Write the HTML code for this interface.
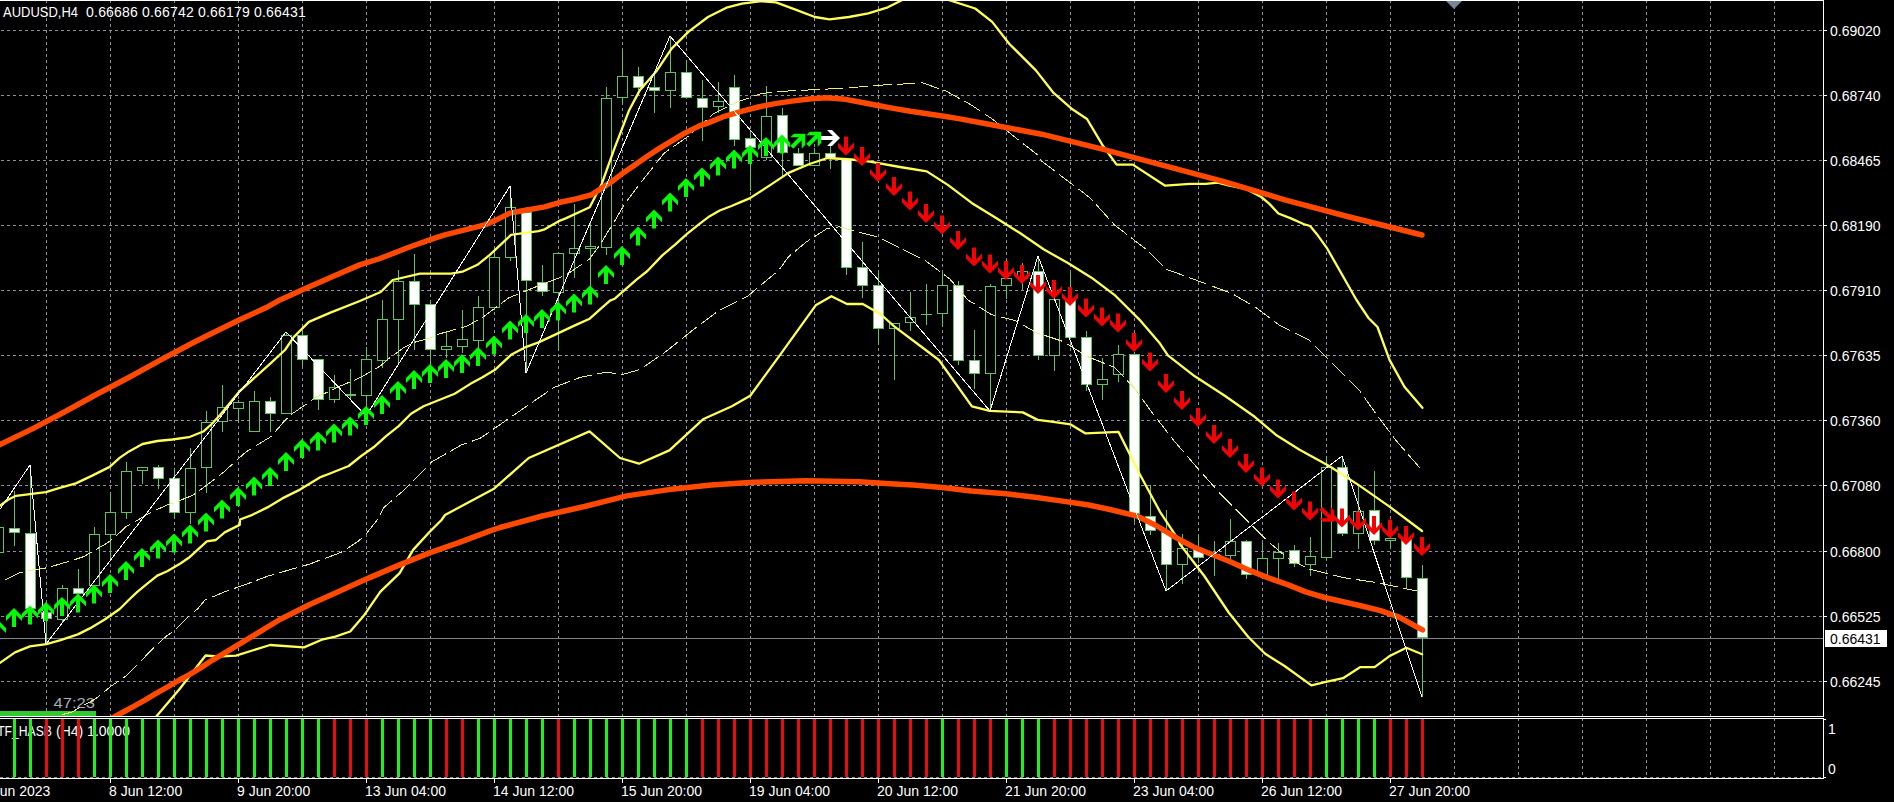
<!DOCTYPE html><html><head><meta charset="utf-8"><style>html,body{margin:0;padding:0;background:#000;overflow:hidden}svg{display:block}text{font-family:"Liberation Sans",sans-serif}</style></head><body>
<svg width="1894" height="802" viewBox="0 0 1894 802">
<rect width="1894" height="802" fill="#000"/>
<g stroke="#8c9198" stroke-width="1" stroke-dasharray="3 3" shape-rendering="crispEdges">
<line x1="1" y1="30.5" x2="1823" y2="30.5"/>
<line x1="1" y1="95.5" x2="1823" y2="95.5"/>
<line x1="1" y1="160.5" x2="1823" y2="160.5"/>
<line x1="1" y1="225.5" x2="1823" y2="225.5"/>
<line x1="1" y1="290.5" x2="1823" y2="290.5"/>
<line x1="1" y1="355.5" x2="1823" y2="355.5"/>
<line x1="1" y1="420.5" x2="1823" y2="420.5"/>
<line x1="1" y1="485.5" x2="1823" y2="485.5"/>
<line x1="1" y1="551.5" x2="1823" y2="551.5"/>
<line x1="1" y1="616.5" x2="1823" y2="616.5"/>
<line x1="1" y1="681.5" x2="1823" y2="681.5"/>
<line x1="46.5" y1="0" x2="46.5" y2="716"/>
<line x1="46.5" y1="718" x2="46.5" y2="777"/>
<line x1="110.5" y1="0" x2="110.5" y2="716"/>
<line x1="110.5" y1="718" x2="110.5" y2="777"/>
<line x1="174.5" y1="0" x2="174.5" y2="716"/>
<line x1="174.5" y1="718" x2="174.5" y2="777"/>
<line x1="238.5" y1="0" x2="238.5" y2="716"/>
<line x1="238.5" y1="718" x2="238.5" y2="777"/>
<line x1="302.5" y1="0" x2="302.5" y2="716"/>
<line x1="302.5" y1="718" x2="302.5" y2="777"/>
<line x1="366.5" y1="0" x2="366.5" y2="716"/>
<line x1="366.5" y1="718" x2="366.5" y2="777"/>
<line x1="430.5" y1="0" x2="430.5" y2="716"/>
<line x1="430.5" y1="718" x2="430.5" y2="777"/>
<line x1="494.5" y1="0" x2="494.5" y2="716"/>
<line x1="494.5" y1="718" x2="494.5" y2="777"/>
<line x1="558.5" y1="0" x2="558.5" y2="716"/>
<line x1="558.5" y1="718" x2="558.5" y2="777"/>
<line x1="622.5" y1="0" x2="622.5" y2="716"/>
<line x1="622.5" y1="718" x2="622.5" y2="777"/>
<line x1="686.5" y1="0" x2="686.5" y2="716"/>
<line x1="686.5" y1="718" x2="686.5" y2="777"/>
<line x1="750.5" y1="0" x2="750.5" y2="716"/>
<line x1="750.5" y1="718" x2="750.5" y2="777"/>
<line x1="814.5" y1="0" x2="814.5" y2="716"/>
<line x1="814.5" y1="718" x2="814.5" y2="777"/>
<line x1="878.5" y1="0" x2="878.5" y2="716"/>
<line x1="878.5" y1="718" x2="878.5" y2="777"/>
<line x1="942.5" y1="0" x2="942.5" y2="716"/>
<line x1="942.5" y1="718" x2="942.5" y2="777"/>
<line x1="1006.5" y1="0" x2="1006.5" y2="716"/>
<line x1="1006.5" y1="718" x2="1006.5" y2="777"/>
<line x1="1070.5" y1="0" x2="1070.5" y2="716"/>
<line x1="1070.5" y1="718" x2="1070.5" y2="777"/>
<line x1="1134.5" y1="0" x2="1134.5" y2="716"/>
<line x1="1134.5" y1="718" x2="1134.5" y2="777"/>
<line x1="1198.5" y1="0" x2="1198.5" y2="716"/>
<line x1="1198.5" y1="718" x2="1198.5" y2="777"/>
<line x1="1262.5" y1="0" x2="1262.5" y2="716"/>
<line x1="1262.5" y1="718" x2="1262.5" y2="777"/>
<line x1="1326.5" y1="0" x2="1326.5" y2="716"/>
<line x1="1326.5" y1="718" x2="1326.5" y2="777"/>
<line x1="1390.5" y1="0" x2="1390.5" y2="716"/>
<line x1="1390.5" y1="718" x2="1390.5" y2="777"/>
<line x1="1454.5" y1="0" x2="1454.5" y2="716"/>
<line x1="1454.5" y1="718" x2="1454.5" y2="777"/>
<line x1="1518.5" y1="0" x2="1518.5" y2="716"/>
<line x1="1518.5" y1="718" x2="1518.5" y2="777"/>
<line x1="1582.5" y1="0" x2="1582.5" y2="716"/>
<line x1="1582.5" y1="718" x2="1582.5" y2="777"/>
<line x1="1646.5" y1="0" x2="1646.5" y2="716"/>
<line x1="1646.5" y1="718" x2="1646.5" y2="777"/>
<line x1="1710.5" y1="0" x2="1710.5" y2="716"/>
<line x1="1710.5" y1="718" x2="1710.5" y2="777"/>
<line x1="1774.5" y1="0" x2="1774.5" y2="716"/>
<line x1="1774.5" y1="718" x2="1774.5" y2="777"/>
<line x1="0" y1="777.5" x2="1823" y2="777.5"/>
</g>
<line x1="0" y1="638.5" x2="1823" y2="638.5" stroke="#80868c" stroke-width="1" shape-rendering="crispEdges"/>
<text x="-13" y="736" font-size="14" fill="#fff" textLength="65" lengthAdjust="spacingAndGlyphs">MTF_HASB</text>
<text x="56" y="736" font-size="14" fill="#fff">(H4) 1.0000</text>
<g shape-rendering="crispEdges">
<rect x="13" y="719" width="3" height="58" fill="#1ef01e"/>
<rect x="29" y="719" width="3" height="58" fill="#1ef01e"/>
<rect x="45" y="719" width="3" height="58" fill="#e60e0e"/>
<rect x="61" y="719" width="3" height="58" fill="#e60e0e"/>
<rect x="77" y="719" width="3" height="58" fill="#e60e0e"/>
<rect x="93" y="719" width="3" height="58" fill="#1ef01e"/>
<rect x="109" y="719" width="3" height="58" fill="#1ef01e"/>
<rect x="125" y="719" width="3" height="58" fill="#1ef01e"/>
<rect x="141" y="719" width="3" height="58" fill="#1ef01e"/>
<rect x="157" y="719" width="3" height="58" fill="#1ef01e"/>
<rect x="173" y="719" width="3" height="58" fill="#1ef01e"/>
<rect x="189" y="719" width="3" height="58" fill="#1ef01e"/>
<rect x="205" y="719" width="3" height="58" fill="#1ef01e"/>
<rect x="221" y="719" width="3" height="58" fill="#1ef01e"/>
<rect x="237" y="719" width="3" height="58" fill="#1ef01e"/>
<rect x="253" y="719" width="3" height="58" fill="#1ef01e"/>
<rect x="269" y="719" width="3" height="58" fill="#1ef01e"/>
<rect x="285" y="719" width="3" height="58" fill="#1ef01e"/>
<rect x="301" y="719" width="3" height="58" fill="#1ef01e"/>
<rect x="317" y="719" width="3" height="58" fill="#1ef01e"/>
<rect x="333" y="719" width="3" height="58" fill="#e60e0e"/>
<rect x="349" y="719" width="3" height="58" fill="#e60e0e"/>
<rect x="365" y="719" width="3" height="58" fill="#e60e0e"/>
<rect x="381" y="719" width="3" height="58" fill="#1ef01e"/>
<rect x="397" y="719" width="3" height="58" fill="#1ef01e"/>
<rect x="413" y="719" width="3" height="58" fill="#1ef01e"/>
<rect x="429" y="719" width="3" height="58" fill="#1ef01e"/>
<rect x="445" y="719" width="3" height="58" fill="#e60e0e"/>
<rect x="461" y="719" width="3" height="58" fill="#e60e0e"/>
<rect x="477" y="719" width="3" height="58" fill="#1ef01e"/>
<rect x="493" y="719" width="3" height="58" fill="#1ef01e"/>
<rect x="509" y="719" width="3" height="58" fill="#1ef01e"/>
<rect x="525" y="719" width="3" height="58" fill="#1ef01e"/>
<rect x="541" y="719" width="3" height="58" fill="#1ef01e"/>
<rect x="557" y="719" width="3" height="58" fill="#e60e0e"/>
<rect x="573" y="719" width="3" height="58" fill="#1ef01e"/>
<rect x="589" y="719" width="3" height="58" fill="#1ef01e"/>
<rect x="605" y="719" width="3" height="58" fill="#1ef01e"/>
<rect x="621" y="719" width="3" height="58" fill="#1ef01e"/>
<rect x="637" y="719" width="3" height="58" fill="#1ef01e"/>
<rect x="653" y="719" width="3" height="58" fill="#1ef01e"/>
<rect x="669" y="719" width="3" height="58" fill="#1ef01e"/>
<rect x="685" y="719" width="3" height="58" fill="#1ef01e"/>
<rect x="701" y="719" width="3" height="58" fill="#e60e0e"/>
<rect x="717" y="719" width="3" height="58" fill="#e60e0e"/>
<rect x="733" y="719" width="3" height="58" fill="#e60e0e"/>
<rect x="749" y="719" width="3" height="58" fill="#e60e0e"/>
<rect x="765" y="719" width="3" height="58" fill="#e60e0e"/>
<rect x="781" y="719" width="3" height="58" fill="#e60e0e"/>
<rect x="797" y="719" width="3" height="58" fill="#e60e0e"/>
<rect x="813" y="719" width="3" height="58" fill="#e60e0e"/>
<rect x="829" y="719" width="3" height="58" fill="#e60e0e"/>
<rect x="845" y="719" width="3" height="58" fill="#e60e0e"/>
<rect x="861" y="719" width="3" height="58" fill="#e60e0e"/>
<rect x="877" y="719" width="3" height="58" fill="#e60e0e"/>
<rect x="893" y="719" width="3" height="58" fill="#e60e0e"/>
<rect x="909" y="719" width="3" height="58" fill="#e60e0e"/>
<rect x="925" y="719" width="3" height="58" fill="#e60e0e"/>
<rect x="941" y="719" width="3" height="58" fill="#1ef01e"/>
<rect x="957" y="719" width="3" height="58" fill="#e60e0e"/>
<rect x="973" y="719" width="3" height="58" fill="#e60e0e"/>
<rect x="989" y="719" width="3" height="58" fill="#e60e0e"/>
<rect x="1005" y="719" width="3" height="58" fill="#1ef01e"/>
<rect x="1021" y="719" width="3" height="58" fill="#1ef01e"/>
<rect x="1037" y="719" width="3" height="58" fill="#1ef01e"/>
<rect x="1053" y="719" width="3" height="58" fill="#e60e0e"/>
<rect x="1069" y="719" width="3" height="58" fill="#e60e0e"/>
<rect x="1085" y="719" width="3" height="58" fill="#e60e0e"/>
<rect x="1101" y="719" width="3" height="58" fill="#e60e0e"/>
<rect x="1117" y="719" width="3" height="58" fill="#e60e0e"/>
<rect x="1133" y="719" width="3" height="58" fill="#e60e0e"/>
<rect x="1149" y="719" width="3" height="58" fill="#e60e0e"/>
<rect x="1165" y="719" width="3" height="58" fill="#e60e0e"/>
<rect x="1181" y="719" width="3" height="58" fill="#e60e0e"/>
<rect x="1197" y="719" width="3" height="58" fill="#e60e0e"/>
<rect x="1213" y="719" width="3" height="58" fill="#e60e0e"/>
<rect x="1229" y="719" width="3" height="58" fill="#e60e0e"/>
<rect x="1245" y="719" width="3" height="58" fill="#e60e0e"/>
<rect x="1261" y="719" width="3" height="58" fill="#e60e0e"/>
<rect x="1277" y="719" width="3" height="58" fill="#e60e0e"/>
<rect x="1293" y="719" width="3" height="58" fill="#e60e0e"/>
<rect x="1309" y="719" width="3" height="58" fill="#e60e0e"/>
<rect x="1325" y="719" width="3" height="58" fill="#1ef01e"/>
<rect x="1341" y="719" width="3" height="58" fill="#1ef01e"/>
<rect x="1357" y="719" width="3" height="58" fill="#1ef01e"/>
<rect x="1373" y="719" width="3" height="58" fill="#1ef01e"/>
<rect x="1389" y="719" width="3" height="58" fill="#e60e0e"/>
<rect x="1405" y="719" width="3" height="58" fill="#e60e0e"/>
<rect x="1421" y="719" width="3" height="58" fill="#e60e0e"/>
</g>
<rect x="0" y="711" width="96" height="5" fill="#32c832"/>
<text x="53.5" y="708" font-size="14" fill="#a8acb0" textLength="41.5" lengthAdjust="spacingAndGlyphs">47:23</text>
<defs><clipPath id="mc"><rect x="0" y="1" width="1823" height="715"/></clipPath></defs>
<g clip-path="url(#mc)">
<g shape-rendering="crispEdges">
<rect x="-2" y="520" width="1" height="7" fill="#5ec45e"/>
<rect x="-2" y="552" width="1" height="8" fill="#5ec45e"/>
<rect x="-7" y="527" width="11" height="26" fill="#5ec45e"/>
<rect x="-6" y="528" width="9" height="24" fill="#000000"/>
<rect x="14" y="491" width="1" height="37" fill="#5ec45e"/>
<rect x="14" y="532" width="1" height="14" fill="#5ec45e"/>
<rect x="9" y="528" width="11" height="5" fill="#5ec45e"/>
<rect x="10" y="529" width="9" height="3" fill="#ffffff"/>
<rect x="30" y="465" width="1" height="68" fill="#5ec45e"/>
<rect x="30" y="608" width="1" height="12" fill="#5ec45e"/>
<rect x="25" y="533" width="11" height="76" fill="#5ec45e"/>
<rect x="26" y="534" width="9" height="74" fill="#ffffff"/>
<rect x="46" y="602" width="1" height="10" fill="#5ec45e"/>
<rect x="46" y="618" width="1" height="26" fill="#5ec45e"/>
<rect x="41" y="612" width="11" height="7" fill="#5ec45e"/>
<rect x="42" y="613" width="9" height="5" fill="#ffffff"/>
<rect x="62" y="585" width="1" height="3" fill="#5ec45e"/>
<rect x="62" y="619" width="1" height="3" fill="#5ec45e"/>
<rect x="57" y="588" width="11" height="32" fill="#5ec45e"/>
<rect x="58" y="589" width="9" height="30" fill="#000000"/>
<rect x="78" y="569" width="1" height="19" fill="#5ec45e"/>
<rect x="78" y="593" width="1" height="12" fill="#5ec45e"/>
<rect x="73" y="588" width="11" height="6" fill="#5ec45e"/>
<rect x="74" y="589" width="9" height="4" fill="#ffffff"/>
<rect x="94" y="527" width="1" height="7" fill="#5ec45e"/>
<rect x="94" y="585" width="1" height="5" fill="#5ec45e"/>
<rect x="89" y="534" width="11" height="52" fill="#5ec45e"/>
<rect x="90" y="535" width="9" height="50" fill="#000000"/>
<rect x="110" y="492" width="1" height="20" fill="#5ec45e"/>
<rect x="110" y="534" width="1" height="24" fill="#5ec45e"/>
<rect x="105" y="512" width="11" height="23" fill="#5ec45e"/>
<rect x="106" y="513" width="9" height="21" fill="#000000"/>
<rect x="126" y="462" width="1" height="9" fill="#5ec45e"/>
<rect x="126" y="512" width="1" height="7" fill="#5ec45e"/>
<rect x="121" y="471" width="11" height="42" fill="#5ec45e"/>
<rect x="122" y="472" width="9" height="40" fill="#000000"/>
<rect x="142" y="470" width="1" height="14" fill="#5ec45e"/>
<rect x="137" y="467" width="11" height="4" fill="#5ec45e"/>
<rect x="138" y="468" width="9" height="2" fill="#000000"/>
<rect x="158" y="465" width="1" height="2" fill="#5ec45e"/>
<rect x="158" y="478" width="1" height="11" fill="#5ec45e"/>
<rect x="153" y="467" width="11" height="12" fill="#5ec45e"/>
<rect x="154" y="468" width="9" height="10" fill="#ffffff"/>
<rect x="174" y="468" width="1" height="10" fill="#5ec45e"/>
<rect x="174" y="512" width="1" height="7" fill="#5ec45e"/>
<rect x="169" y="478" width="11" height="35" fill="#5ec45e"/>
<rect x="170" y="479" width="9" height="33" fill="#ffffff"/>
<rect x="190" y="448" width="1" height="20" fill="#5ec45e"/>
<rect x="190" y="512" width="1" height="12" fill="#5ec45e"/>
<rect x="185" y="468" width="11" height="45" fill="#5ec45e"/>
<rect x="186" y="469" width="9" height="43" fill="#000000"/>
<rect x="206" y="411" width="1" height="11" fill="#5ec45e"/>
<rect x="206" y="467" width="1" height="26" fill="#5ec45e"/>
<rect x="201" y="422" width="11" height="46" fill="#5ec45e"/>
<rect x="202" y="423" width="9" height="44" fill="#000000"/>
<rect x="222" y="385" width="1" height="22" fill="#5ec45e"/>
<rect x="222" y="421" width="1" height="11" fill="#5ec45e"/>
<rect x="217" y="407" width="11" height="15" fill="#5ec45e"/>
<rect x="218" y="408" width="9" height="13" fill="#000000"/>
<rect x="238" y="400" width="1" height="2" fill="#5ec45e"/>
<rect x="238" y="408" width="1" height="14" fill="#5ec45e"/>
<rect x="233" y="402" width="11" height="7" fill="#5ec45e"/>
<rect x="234" y="403" width="9" height="5" fill="#000000"/>
<rect x="254" y="391" width="1" height="10" fill="#5ec45e"/>
<rect x="249" y="401" width="11" height="31" fill="#5ec45e"/>
<rect x="250" y="402" width="9" height="29" fill="#000000"/>
<rect x="270" y="397" width="1" height="4" fill="#5ec45e"/>
<rect x="270" y="413" width="1" height="19" fill="#5ec45e"/>
<rect x="265" y="401" width="11" height="13" fill="#5ec45e"/>
<rect x="266" y="402" width="9" height="11" fill="#ffffff"/>
<rect x="286" y="332" width="1" height="3" fill="#5ec45e"/>
<rect x="281" y="335" width="11" height="79" fill="#5ec45e"/>
<rect x="282" y="336" width="9" height="77" fill="#000000"/>
<rect x="302" y="331" width="1" height="4" fill="#5ec45e"/>
<rect x="302" y="359" width="1" height="7" fill="#5ec45e"/>
<rect x="297" y="335" width="11" height="25" fill="#5ec45e"/>
<rect x="298" y="336" width="9" height="23" fill="#ffffff"/>
<rect x="318" y="399" width="1" height="11" fill="#5ec45e"/>
<rect x="313" y="359" width="11" height="41" fill="#5ec45e"/>
<rect x="314" y="360" width="9" height="39" fill="#ffffff"/>
<rect x="334" y="375" width="1" height="12" fill="#5ec45e"/>
<rect x="334" y="399" width="1" height="4" fill="#5ec45e"/>
<rect x="329" y="387" width="11" height="13" fill="#5ec45e"/>
<rect x="330" y="388" width="9" height="11" fill="#000000"/>
<rect x="350" y="369" width="1" height="25" fill="#5ec45e"/>
<rect x="350" y="395" width="1" height="4" fill="#5ec45e"/>
<rect x="345" y="394" width="11" height="2" fill="#5ec45e"/>
<rect x="366" y="347" width="1" height="12" fill="#5ec45e"/>
<rect x="366" y="395" width="1" height="21" fill="#5ec45e"/>
<rect x="361" y="359" width="11" height="37" fill="#5ec45e"/>
<rect x="362" y="360" width="9" height="35" fill="#000000"/>
<rect x="382" y="300" width="1" height="19" fill="#5ec45e"/>
<rect x="382" y="360" width="1" height="8" fill="#5ec45e"/>
<rect x="377" y="319" width="11" height="42" fill="#5ec45e"/>
<rect x="378" y="320" width="9" height="40" fill="#000000"/>
<rect x="398" y="270" width="1" height="11" fill="#5ec45e"/>
<rect x="398" y="319" width="1" height="45" fill="#5ec45e"/>
<rect x="393" y="281" width="11" height="39" fill="#5ec45e"/>
<rect x="394" y="282" width="9" height="37" fill="#000000"/>
<rect x="414" y="254" width="1" height="27" fill="#5ec45e"/>
<rect x="414" y="304" width="1" height="46" fill="#5ec45e"/>
<rect x="409" y="281" width="11" height="24" fill="#5ec45e"/>
<rect x="410" y="282" width="9" height="22" fill="#ffffff"/>
<rect x="430" y="300" width="1" height="4" fill="#5ec45e"/>
<rect x="430" y="349" width="1" height="21" fill="#5ec45e"/>
<rect x="425" y="304" width="11" height="46" fill="#5ec45e"/>
<rect x="426" y="305" width="9" height="44" fill="#ffffff"/>
<rect x="446" y="331" width="1" height="15" fill="#5ec45e"/>
<rect x="446" y="349" width="1" height="9" fill="#5ec45e"/>
<rect x="441" y="346" width="11" height="4" fill="#5ec45e"/>
<rect x="442" y="347" width="9" height="2" fill="#000000"/>
<rect x="462" y="310" width="1" height="29" fill="#5ec45e"/>
<rect x="462" y="346" width="1" height="7" fill="#5ec45e"/>
<rect x="457" y="339" width="11" height="8" fill="#5ec45e"/>
<rect x="458" y="340" width="9" height="6" fill="#000000"/>
<rect x="478" y="296" width="1" height="11" fill="#5ec45e"/>
<rect x="478" y="340" width="1" height="15" fill="#5ec45e"/>
<rect x="473" y="307" width="11" height="34" fill="#5ec45e"/>
<rect x="474" y="308" width="9" height="32" fill="#000000"/>
<rect x="494" y="252" width="1" height="5" fill="#5ec45e"/>
<rect x="494" y="307" width="1" height="3" fill="#5ec45e"/>
<rect x="489" y="257" width="11" height="51" fill="#5ec45e"/>
<rect x="490" y="258" width="9" height="49" fill="#000000"/>
<rect x="510" y="186" width="1" height="21" fill="#5ec45e"/>
<rect x="510" y="257" width="1" height="4" fill="#5ec45e"/>
<rect x="505" y="207" width="11" height="51" fill="#5ec45e"/>
<rect x="506" y="208" width="9" height="49" fill="#000000"/>
<rect x="526" y="207" width="1" height="5" fill="#5ec45e"/>
<rect x="526" y="280" width="1" height="92" fill="#5ec45e"/>
<rect x="521" y="212" width="11" height="69" fill="#5ec45e"/>
<rect x="522" y="213" width="9" height="67" fill="#ffffff"/>
<rect x="542" y="265" width="1" height="17" fill="#5ec45e"/>
<rect x="542" y="291" width="1" height="5" fill="#5ec45e"/>
<rect x="537" y="282" width="11" height="10" fill="#5ec45e"/>
<rect x="538" y="283" width="9" height="8" fill="#ffffff"/>
<rect x="558" y="292" width="1" height="59" fill="#5ec45e"/>
<rect x="553" y="253" width="11" height="40" fill="#5ec45e"/>
<rect x="554" y="254" width="9" height="38" fill="#000000"/>
<rect x="574" y="204" width="1" height="44" fill="#5ec45e"/>
<rect x="574" y="253" width="1" height="25" fill="#5ec45e"/>
<rect x="569" y="248" width="11" height="6" fill="#5ec45e"/>
<rect x="570" y="249" width="9" height="4" fill="#000000"/>
<rect x="590" y="221" width="1" height="25" fill="#5ec45e"/>
<rect x="590" y="248" width="1" height="42" fill="#5ec45e"/>
<rect x="585" y="246" width="11" height="3" fill="#5ec45e"/>
<rect x="586" y="247" width="9" height="1" fill="#000000"/>
<rect x="606" y="87" width="1" height="11" fill="#5ec45e"/>
<rect x="606" y="247" width="1" height="8" fill="#5ec45e"/>
<rect x="601" y="98" width="11" height="150" fill="#5ec45e"/>
<rect x="602" y="99" width="9" height="148" fill="#000000"/>
<rect x="622" y="51" width="1" height="25" fill="#5ec45e"/>
<rect x="622" y="97" width="1" height="8" fill="#5ec45e"/>
<rect x="617" y="76" width="11" height="22" fill="#5ec45e"/>
<rect x="618" y="77" width="9" height="20" fill="#000000"/>
<rect x="638" y="67" width="1" height="9" fill="#5ec45e"/>
<rect x="638" y="87" width="1" height="3" fill="#5ec45e"/>
<rect x="633" y="76" width="11" height="12" fill="#5ec45e"/>
<rect x="634" y="77" width="9" height="10" fill="#ffffff"/>
<rect x="654" y="73" width="1" height="14" fill="#5ec45e"/>
<rect x="654" y="90" width="1" height="23" fill="#5ec45e"/>
<rect x="649" y="87" width="11" height="4" fill="#5ec45e"/>
<rect x="650" y="88" width="9" height="2" fill="#ffffff"/>
<rect x="670" y="37" width="1" height="35" fill="#5ec45e"/>
<rect x="670" y="90" width="1" height="18" fill="#5ec45e"/>
<rect x="665" y="72" width="11" height="19" fill="#5ec45e"/>
<rect x="666" y="73" width="9" height="17" fill="#000000"/>
<rect x="686" y="60" width="1" height="12" fill="#5ec45e"/>
<rect x="681" y="72" width="11" height="26" fill="#5ec45e"/>
<rect x="682" y="73" width="9" height="24" fill="#ffffff"/>
<rect x="702" y="80" width="1" height="18" fill="#5ec45e"/>
<rect x="702" y="107" width="1" height="34" fill="#5ec45e"/>
<rect x="697" y="98" width="11" height="10" fill="#5ec45e"/>
<rect x="698" y="99" width="9" height="8" fill="#ffffff"/>
<rect x="718" y="82" width="1" height="19" fill="#5ec45e"/>
<rect x="718" y="106" width="1" height="7" fill="#5ec45e"/>
<rect x="713" y="101" width="11" height="6" fill="#5ec45e"/>
<rect x="714" y="102" width="9" height="4" fill="#000000"/>
<rect x="734" y="75" width="1" height="12" fill="#5ec45e"/>
<rect x="734" y="139" width="1" height="7" fill="#5ec45e"/>
<rect x="729" y="87" width="11" height="53" fill="#5ec45e"/>
<rect x="730" y="88" width="9" height="51" fill="#ffffff"/>
<rect x="750" y="130" width="1" height="8" fill="#5ec45e"/>
<rect x="750" y="147" width="1" height="44" fill="#5ec45e"/>
<rect x="745" y="138" width="11" height="10" fill="#5ec45e"/>
<rect x="746" y="139" width="9" height="8" fill="#ffffff"/>
<rect x="766" y="86" width="1" height="30" fill="#5ec45e"/>
<rect x="766" y="157" width="1" height="3" fill="#5ec45e"/>
<rect x="761" y="116" width="11" height="42" fill="#5ec45e"/>
<rect x="762" y="117" width="9" height="40" fill="#000000"/>
<rect x="782" y="108" width="1" height="7" fill="#5ec45e"/>
<rect x="782" y="152" width="1" height="24" fill="#5ec45e"/>
<rect x="777" y="115" width="11" height="38" fill="#5ec45e"/>
<rect x="778" y="116" width="9" height="36" fill="#ffffff"/>
<rect x="798" y="148" width="1" height="5" fill="#5ec45e"/>
<rect x="793" y="153" width="11" height="13" fill="#5ec45e"/>
<rect x="794" y="154" width="9" height="11" fill="#ffffff"/>
<rect x="814" y="148" width="1" height="5" fill="#5ec45e"/>
<rect x="809" y="153" width="11" height="13" fill="#5ec45e"/>
<rect x="810" y="154" width="9" height="11" fill="#000000"/>
<rect x="830" y="145" width="1" height="8" fill="#5ec45e"/>
<rect x="830" y="157" width="1" height="12" fill="#5ec45e"/>
<rect x="825" y="153" width="11" height="5" fill="#5ec45e"/>
<rect x="826" y="154" width="9" height="3" fill="#ffffff"/>
<rect x="846" y="267" width="1" height="8" fill="#5ec45e"/>
<rect x="841" y="159" width="11" height="109" fill="#5ec45e"/>
<rect x="842" y="160" width="9" height="107" fill="#ffffff"/>
<rect x="862" y="242" width="1" height="25" fill="#5ec45e"/>
<rect x="862" y="285" width="1" height="13" fill="#5ec45e"/>
<rect x="857" y="267" width="11" height="19" fill="#5ec45e"/>
<rect x="858" y="268" width="9" height="17" fill="#ffffff"/>
<rect x="878" y="271" width="1" height="14" fill="#5ec45e"/>
<rect x="878" y="328" width="1" height="17" fill="#5ec45e"/>
<rect x="873" y="285" width="11" height="44" fill="#5ec45e"/>
<rect x="874" y="286" width="9" height="42" fill="#ffffff"/>
<rect x="894" y="328" width="1" height="52" fill="#5ec45e"/>
<rect x="889" y="323" width="11" height="6" fill="#5ec45e"/>
<rect x="890" y="324" width="9" height="4" fill="#000000"/>
<rect x="910" y="292" width="1" height="25" fill="#5ec45e"/>
<rect x="910" y="322" width="1" height="9" fill="#5ec45e"/>
<rect x="905" y="317" width="11" height="6" fill="#5ec45e"/>
<rect x="906" y="318" width="9" height="4" fill="#000000"/>
<rect x="926" y="284" width="1" height="30" fill="#5ec45e"/>
<rect x="926" y="314" width="1" height="11" fill="#5ec45e"/>
<rect x="921" y="314" width="11" height="1" fill="#5ec45e"/>
<rect x="942" y="272" width="1" height="13" fill="#5ec45e"/>
<rect x="942" y="313" width="1" height="13" fill="#5ec45e"/>
<rect x="937" y="285" width="11" height="29" fill="#5ec45e"/>
<rect x="938" y="286" width="9" height="27" fill="#000000"/>
<rect x="958" y="281" width="1" height="4" fill="#5ec45e"/>
<rect x="958" y="360" width="1" height="5" fill="#5ec45e"/>
<rect x="953" y="285" width="11" height="76" fill="#5ec45e"/>
<rect x="954" y="286" width="9" height="74" fill="#ffffff"/>
<rect x="974" y="330" width="1" height="30" fill="#5ec45e"/>
<rect x="974" y="373" width="1" height="16" fill="#5ec45e"/>
<rect x="969" y="360" width="11" height="14" fill="#5ec45e"/>
<rect x="970" y="361" width="9" height="12" fill="#ffffff"/>
<rect x="990" y="284" width="1" height="2" fill="#5ec45e"/>
<rect x="990" y="373" width="1" height="38" fill="#5ec45e"/>
<rect x="985" y="286" width="11" height="88" fill="#5ec45e"/>
<rect x="986" y="287" width="9" height="86" fill="#000000"/>
<rect x="1006" y="285" width="1" height="14" fill="#5ec45e"/>
<rect x="1001" y="278" width="11" height="8" fill="#5ec45e"/>
<rect x="1002" y="279" width="9" height="6" fill="#000000"/>
<rect x="1022" y="263" width="1" height="8" fill="#5ec45e"/>
<rect x="1022" y="278" width="1" height="12" fill="#5ec45e"/>
<rect x="1017" y="271" width="11" height="8" fill="#5ec45e"/>
<rect x="1018" y="272" width="9" height="6" fill="#000000"/>
<rect x="1038" y="256" width="1" height="15" fill="#5ec45e"/>
<rect x="1038" y="355" width="1" height="5" fill="#5ec45e"/>
<rect x="1033" y="271" width="11" height="85" fill="#5ec45e"/>
<rect x="1034" y="272" width="9" height="83" fill="#ffffff"/>
<rect x="1054" y="296" width="1" height="3" fill="#5ec45e"/>
<rect x="1054" y="355" width="1" height="16" fill="#5ec45e"/>
<rect x="1049" y="299" width="11" height="57" fill="#5ec45e"/>
<rect x="1050" y="300" width="9" height="55" fill="#000000"/>
<rect x="1070" y="273" width="1" height="26" fill="#5ec45e"/>
<rect x="1065" y="299" width="11" height="39" fill="#5ec45e"/>
<rect x="1066" y="300" width="9" height="37" fill="#ffffff"/>
<rect x="1086" y="331" width="1" height="6" fill="#5ec45e"/>
<rect x="1086" y="384" width="1" height="7" fill="#5ec45e"/>
<rect x="1081" y="337" width="11" height="48" fill="#5ec45e"/>
<rect x="1082" y="338" width="9" height="46" fill="#ffffff"/>
<rect x="1102" y="358" width="1" height="21" fill="#5ec45e"/>
<rect x="1102" y="384" width="1" height="16" fill="#5ec45e"/>
<rect x="1097" y="379" width="11" height="6" fill="#5ec45e"/>
<rect x="1098" y="380" width="9" height="4" fill="#000000"/>
<rect x="1118" y="345" width="1" height="9" fill="#5ec45e"/>
<rect x="1118" y="374" width="1" height="8" fill="#5ec45e"/>
<rect x="1113" y="354" width="11" height="21" fill="#5ec45e"/>
<rect x="1114" y="355" width="9" height="19" fill="#000000"/>
<rect x="1134" y="352" width="1" height="2" fill="#5ec45e"/>
<rect x="1134" y="513" width="1" height="9" fill="#5ec45e"/>
<rect x="1129" y="354" width="11" height="160" fill="#5ec45e"/>
<rect x="1130" y="355" width="9" height="158" fill="#ffffff"/>
<rect x="1150" y="485" width="1" height="31" fill="#5ec45e"/>
<rect x="1150" y="530" width="1" height="5" fill="#5ec45e"/>
<rect x="1145" y="516" width="11" height="15" fill="#5ec45e"/>
<rect x="1146" y="517" width="9" height="13" fill="#ffffff"/>
<rect x="1166" y="510" width="1" height="22" fill="#5ec45e"/>
<rect x="1166" y="564" width="1" height="27" fill="#5ec45e"/>
<rect x="1161" y="532" width="11" height="33" fill="#5ec45e"/>
<rect x="1162" y="533" width="9" height="31" fill="#ffffff"/>
<rect x="1182" y="534" width="1" height="14" fill="#5ec45e"/>
<rect x="1182" y="564" width="1" height="20" fill="#5ec45e"/>
<rect x="1177" y="548" width="11" height="17" fill="#5ec45e"/>
<rect x="1178" y="549" width="9" height="15" fill="#000000"/>
<rect x="1198" y="535" width="1" height="13" fill="#5ec45e"/>
<rect x="1198" y="557" width="1" height="6" fill="#5ec45e"/>
<rect x="1193" y="548" width="11" height="10" fill="#5ec45e"/>
<rect x="1194" y="549" width="9" height="8" fill="#ffffff"/>
<rect x="1214" y="541" width="1" height="13" fill="#5ec45e"/>
<rect x="1214" y="554" width="1" height="22" fill="#5ec45e"/>
<rect x="1209" y="554" width="11" height="1" fill="#5ec45e"/>
<rect x="1230" y="519" width="1" height="22" fill="#5ec45e"/>
<rect x="1230" y="555" width="1" height="5" fill="#5ec45e"/>
<rect x="1225" y="541" width="11" height="15" fill="#5ec45e"/>
<rect x="1226" y="542" width="9" height="13" fill="#000000"/>
<rect x="1246" y="540" width="1" height="1" fill="#5ec45e"/>
<rect x="1246" y="574" width="1" height="5" fill="#5ec45e"/>
<rect x="1241" y="541" width="11" height="34" fill="#5ec45e"/>
<rect x="1242" y="542" width="9" height="32" fill="#ffffff"/>
<rect x="1262" y="543" width="1" height="15" fill="#5ec45e"/>
<rect x="1257" y="558" width="11" height="17" fill="#5ec45e"/>
<rect x="1258" y="559" width="9" height="15" fill="#000000"/>
<rect x="1278" y="543" width="1" height="9" fill="#5ec45e"/>
<rect x="1278" y="558" width="1" height="22" fill="#5ec45e"/>
<rect x="1273" y="552" width="11" height="7" fill="#5ec45e"/>
<rect x="1274" y="553" width="9" height="5" fill="#000000"/>
<rect x="1294" y="545" width="1" height="5" fill="#5ec45e"/>
<rect x="1294" y="563" width="1" height="4" fill="#5ec45e"/>
<rect x="1289" y="550" width="11" height="14" fill="#5ec45e"/>
<rect x="1290" y="551" width="9" height="12" fill="#ffffff"/>
<rect x="1310" y="537" width="1" height="19" fill="#5ec45e"/>
<rect x="1310" y="564" width="1" height="12" fill="#5ec45e"/>
<rect x="1305" y="556" width="11" height="9" fill="#5ec45e"/>
<rect x="1306" y="557" width="9" height="7" fill="#000000"/>
<rect x="1326" y="456" width="1" height="11" fill="#5ec45e"/>
<rect x="1326" y="557" width="1" height="3" fill="#5ec45e"/>
<rect x="1321" y="467" width="11" height="91" fill="#5ec45e"/>
<rect x="1322" y="468" width="9" height="89" fill="#000000"/>
<rect x="1342" y="456" width="1" height="11" fill="#5ec45e"/>
<rect x="1342" y="533" width="1" height="3" fill="#5ec45e"/>
<rect x="1337" y="467" width="11" height="67" fill="#5ec45e"/>
<rect x="1338" y="468" width="9" height="65" fill="#ffffff"/>
<rect x="1358" y="485" width="1" height="26" fill="#5ec45e"/>
<rect x="1358" y="533" width="1" height="16" fill="#5ec45e"/>
<rect x="1353" y="511" width="11" height="23" fill="#5ec45e"/>
<rect x="1354" y="512" width="9" height="21" fill="#000000"/>
<rect x="1374" y="471" width="1" height="39" fill="#5ec45e"/>
<rect x="1374" y="540" width="1" height="5" fill="#5ec45e"/>
<rect x="1369" y="510" width="11" height="31" fill="#5ec45e"/>
<rect x="1370" y="511" width="9" height="29" fill="#ffffff"/>
<rect x="1390" y="530" width="1" height="8" fill="#5ec45e"/>
<rect x="1390" y="540" width="1" height="9" fill="#5ec45e"/>
<rect x="1385" y="538" width="11" height="3" fill="#5ec45e"/>
<rect x="1386" y="539" width="9" height="1" fill="#000000"/>
<rect x="1406" y="577" width="1" height="12" fill="#5ec45e"/>
<rect x="1401" y="538" width="11" height="40" fill="#5ec45e"/>
<rect x="1402" y="539" width="9" height="38" fill="#ffffff"/>
<rect x="1422" y="565" width="1" height="13" fill="#5ec45e"/>
<rect x="1422" y="637" width="1" height="60" fill="#5ec45e"/>
<rect x="1417" y="578" width="11" height="60" fill="#5ec45e"/>
<rect x="1418" y="579" width="9" height="58" fill="#ffffff"/>
</g>
<polyline points="6.0,579.6 20.0,572.6 29.9,570.6 47.9,567.6 59.8,564.0 71.8,560.6 83.7,556.6 95.7,549.6 107.7,542.7 119.6,532.7 126.0,526.6 142.5,517.3 150.0,512.8 166.4,505.3 175.4,502.3 191.9,495.6 197.8,491.9 215.8,478.4 223.3,472.4 239.8,457.4 245.7,452.2 263.7,441.0 271.2,436.5 285.0,420.3 292.5,413.6 308.9,402.3 314.9,397.8 331.4,390.4 338.9,386.6 356.8,379.1 362.8,376.1 380.8,365.7 388.3,358.9 404.7,347.0 413.7,342.5 430.0,338.0 440.0,333.7 467.0,326.2 485.0,315.7 508.9,297.7 538.8,285.7 565.7,275.3 589.7,258.8 600.0,244.8 607.5,232.4 612.5,224.9 621.8,208.7 626.2,201.8 639.9,183.7 664.3,153.0 688.6,136.0 712.9,114.2 737.2,102.0 761.4,93.5 785.7,91.1 810.0,89.9 834.3,88.7 858.6,87.0 882.9,85.0 907.2,83.8 921.8,82.6 946.0,91.1 970.3,104.4 992.2,119.0 1016.5,138.4 1038.4,155.5 1041.6,161.0 1090.0,197.8 1114.6,225.0 1147.0,250.0 1166.0,269.2 1184.0,275.6 1208.0,284.6 1232.0,293.6 1256.0,307.6 1280.0,325.6 1288.8,330.0 1309.0,340.0 1335.9,367.0 1359.5,390.6 1376.3,414.2 1396.5,441.1 1420.0,468.0" fill="none" stroke="#ecec6e" stroke-width="1" stroke-linejoin="round" stroke-linecap="round" stroke-dasharray="18 6" shape-rendering="crispEdges"/>
<polyline points="40.0,722.0 59.8,715.2 71.8,712.2 79.3,707.7 95.8,698.7 102.2,693.4 111.2,686.1 119.6,680.5 126.4,675.5 143.8,658.1 150.5,650.8 166.2,636.2 173.5,631.4 190.0,615.0 197.5,609.0 205.0,600.0 224.3,592.0 250.0,582.8 268.0,576.1 285.9,570.9 293.4,568.6 309.8,564.1 317.3,561.1 333.8,555.2 341.3,552.2 357.7,541.7 365.2,535.0 377.2,520.0 384.0,507.5 402.4,491.4 432.0,461.7 461.7,444.8 480.0,438.4 553.8,387.5 580.0,377.4 606.2,372.1 621.9,374.7 640.2,369.5 666.4,351.2 692.6,330.2 718.8,310.6 747.6,296.2 763.3,283.1 779.0,270.0 788.5,256.8 806.5,241.8 827.4,228.3 839.4,226.8 853.9,230.9 877.8,236.9 901.8,248.9 925.7,260.8 949.7,278.8 967.7,299.8 991.6,314.7 1015.6,320.7 1036.5,332.7 1063.5,341.7 1087.4,356.6 1113.7,367.0 1133.9,387.2 1150.7,410.8 1174.3,441.1 1194.5,464.7 1221.4,495.0 1248.4,522.0 1268.6,542.0 1288.8,559.0 1309.0,569.0 1342.6,577.5 1376.3,582.5 1416.7,591.0" fill="none" stroke="#ecec80" stroke-width="1" stroke-linejoin="round" stroke-linecap="round" stroke-dasharray="18 6" shape-rendering="crispEdges"/>
<polyline points="-2.0,507.0 8.0,499.8 16.0,495.8 29.9,494.2 45.9,492.2 59.8,487.8 75.8,483.4 91.7,475.9 109.7,466.9 119.6,457.9 129.0,451.4 142.5,444.0 157.4,441.0 172.4,439.5 188.9,437.2 203.8,431.2 212.8,423.0 220.0,415.0 240.0,390.8 270.0,363.8 285.0,350.0 293.9,336.9 308.9,321.9 329.8,312.9 359.8,301.0 380.7,292.0 392.7,280.0 420.0,273.6 451.2,273.6 462.4,271.7 477.4,264.8 489.8,254.9 511.0,234.9 519.8,233.7 538.5,231.2 544.7,229.3 560.0,220.6 565.7,218.4 589.7,207.3 601.7,184.0 614.0,149.7 628.9,110.8 640.0,89.9 657.0,70.4 671.6,48.6 688.6,31.6 708.0,17.0 727.4,7.3 742.0,3.6 761.4,1.2 776.0,2.4 795.5,9.7 814.9,17.0 829.5,19.4 848.9,17.0 868.3,13.4 887.8,7.3 902.3,0.0 906.0,-2.0 944.0,-2.0 948.5,0.0 975.2,8.5 992.2,21.9 1009.2,43.7 1021.4,55.9 1035.9,70.4 1053.0,92.3 1072.4,109.3 1087.0,119.0 1100.0,140.9 1102.4,145.0 1116.6,164.6 1132.8,164.6 1165.2,185.7 1190.0,183.8 1205.8,183.8 1217.7,182.7 1229.6,185.7 1245.4,188.8 1261.3,197.0 1269.2,203.6 1278.4,213.5 1290.3,218.1 1303.5,224.0 1310.1,226.0 1316.7,233.9 1327.3,248.7 1356.5,300.0 1368.5,318.0 1377.5,327.0 1389.5,359.9 1404.4,386.8 1422.4,407.8" fill="none" stroke="#ffff58" stroke-width="2.3" stroke-linejoin="round" stroke-linecap="round" />
<polyline points="-2.0,664.0 0.0,662.8 15.0,652.4 29.9,646.4 46.4,644.1 59.8,640.4 77.8,634.4 89.8,628.4 104.7,619.5 119.7,609.0 128.7,600.0 137.3,591.8 147.3,583.7 157.3,575.6 167.2,571.2 180.0,563.7 188.8,557.8 206.8,541.4 215.8,540.0 224.7,532.4 239.7,524.9 240.0,519.5 252.4,514.8 267.4,507.4 282.3,498.4 300.0,489.6 319.8,477.4 330.0,473.5 348.7,466.0 361.2,456.0 373.6,447.3 386.1,436.1 398.6,426.1 411.0,413.7 423.5,406.2 436.0,401.2 454.7,393.7 470.0,384.1 482.5,377.3 494.9,369.8 511.1,354.8 524.9,347.4 538.6,342.4 557.3,333.6 576.0,324.9 589.7,318.7 600.9,308.7 610.0,300.6 614.8,298.7 636.2,279.8 647.4,271.0 662.3,255.4 674.8,244.8 687.3,233.6 699.8,223.6 709.7,216.2 719.7,210.5 730.9,206.2 740.0,202.4 749.6,198.4 770.5,184.9 788.5,172.9 809.5,164.0 827.4,158.0 851.4,159.5 870.0,161.6 899.9,167.0 926.8,171.4 947.8,184.9 971.7,202.9 995.7,217.8 1019.6,232.8 1043.6,249.3 1067.5,262.8 1091.5,277.7 1115.4,295.7 1139.4,319.6 1160.0,343.6 1167.9,355.4 1194.8,376.3 1224.8,395.8 1254.7,416.8 1275.7,434.7 1299.6,449.7 1329.6,466.2 1359.5,485.6 1389.5,506.6 1422.0,531.0" fill="none" stroke="#ffff58" stroke-width="2.3" stroke-linejoin="round" stroke-linecap="round" />
<polyline points="150.0,722.0 153.3,720.0 179.4,689.2 205.6,655.5 217.0,656.5 236.0,655.7 270.0,645.0 304.0,647.4 321.8,639.7 335.3,636.7 350.2,631.5 363.7,615.8 380.2,591.8 399.6,573.1 413.1,549.9 429.5,532.0 441.5,520.0 445.0,515.0 494.4,488.4 528.7,458.0 589.5,431.4 620.0,458.0 639.0,463.7 669.4,450.4 703.0,419.3 731.9,406.2 750.2,395.7 779.0,356.4 815.7,305.3 831.4,296.2 847.0,304.0 862.8,304.0 881.0,314.5 894.2,326.3 920.4,346.0 938.9,360.0 971.9,406.4 989.8,410.9 1022.8,412.4 1037.7,419.9 1049.7,421.4 1070.7,424.4 1085.6,433.4 1118.6,431.9 1139.5,473.8 1160.5,512.7 1178.4,539.6 1180.0,544.3 1204.3,576.0 1228.7,612.5 1248.1,636.8 1265.2,653.8 1284.6,666.0 1311.4,685.4 1326.0,681.8 1343.0,678.2 1360.0,667.2 1374.6,667.2 1389.2,656.3 1406.3,647.7 1422.1,654.3" fill="none" stroke="#ffff58" stroke-width="2.3" stroke-linejoin="round" stroke-linecap="round" />
<polyline points="-3.0,446.2 0.0,444.6 32.4,428.9 64.8,411.8 97.2,394.0 129.7,377.0 162.1,359.2 194.5,342.0 210.0,334.3 238.1,320.5 266.2,307.6 280.0,299.9 302.5,289.8 336.2,274.9 359.7,264.9 380.0,258.5 408.1,247.5 436.2,237.7 444.9,234.9 469.9,228.7 484.8,224.9 494.8,220.6 509.8,213.1 519.8,211.2 544.7,206.9 560.0,202.3 575.0,199.2 591.2,194.8 601.1,188.6 612.4,181.1 622.3,173.6 634.8,164.9 647.3,156.2 659.8,148.1 672.2,140.6 684.7,133.1 700.0,125.6 707.6,123.1 724.5,116.3 741.4,111.3 758.2,107.0 775.1,103.6 792.0,101.1 808.9,98.9 825.8,97.7 842.7,98.9 859.6,102.0 876.5,105.3 893.4,108.4 910.3,111.3 927.2,113.8 944.0,116.3 960.0,118.9 980.8,122.8 1041.6,134.2 1102.4,149.2 1163.2,165.4 1224.0,181.6 1284.8,199.8 1345.6,216.0 1422.0,235.0" fill="none" stroke="#ff4800" stroke-width="5.5" stroke-linejoin="round" stroke-linecap="round" />
<polyline points="105.0,722.0 122.4,712.5 133.7,706.3 144.9,700.1 156.1,693.4 167.3,687.2 178.6,680.5 189.8,674.3 201.0,667.6 212.2,660.3 223.5,653.6 234.7,646.8 245.9,640.1 257.1,633.4 279.9,619.5 309.8,604.5 339.8,591.1 369.7,577.6 399.6,564.9 429.5,552.9 459.5,542.4 489.4,531.2 500.0,527.5 542.2,516.0 584.5,506.5 626.7,495.9 669.0,489.6 711.2,484.9 753.4,482.2 806.2,480.7 859.0,481.8 890.0,483.7 913.2,485.1 942.3,487.4 971.3,490.9 1006.1,493.8 1035.2,497.3 1064.2,501.4 1087.4,504.8 1110.0,509.5 1137.4,516.2 1156.1,525.5 1174.8,536.8 1193.5,547.0 1212.2,554.5 1230.9,562.0 1249.6,570.4 1268.3,577.9 1287.0,584.4 1305.7,591.9 1324.4,597.5 1343.1,601.8 1361.8,606.0 1380.5,610.6 1399.2,617.2 1417.9,627.5 1422.6,629.9" fill="none" stroke="#ff4800" stroke-width="5.5" stroke-linejoin="round" stroke-linecap="round" />
<polyline points="-10.0,524.0 30.0,465.0 46.0,644.0 286.0,332.0 366.0,416.0 510.0,186.0 526.0,373.0 670.0,36.0 990.0,411.0 1038.0,256.0 1166.0,591.0 1342.0,456.0 1422.0,697.0" fill="none" stroke="#ffffff" stroke-width="1" stroke-linejoin="round" stroke-linecap="round" shape-rendering="crispEdges"/>
<polygon points="-2.0,620.0 6.0,628.0 6.0,633.0 0.0,627.0 0.0,639.0 -4.0,639.0 -4.0,627.0 -10.0,633.0 -10.0,628.0" fill="#06f806"/>
<polygon points="14.0,608.0 22.0,616.0 22.0,621.0 16.0,615.0 16.0,627.0 12.0,627.0 12.0,615.0 6.0,621.0 6.0,616.0" fill="#06f806"/>
<polygon points="30.0,605.5 38.0,613.5 38.0,618.5 32.0,612.5 32.0,624.5 28.0,624.5 28.0,612.5 22.0,618.5 22.0,613.5" fill="#06f806"/>
<polygon points="46.0,602.0 54.0,610.0 54.0,615.0 48.0,609.0 48.0,621.0 44.0,621.0 44.0,609.0 38.0,615.0 38.0,610.0" fill="#06f806"/>
<polygon points="62.0,597.0 70.0,605.0 70.0,610.0 64.0,604.0 64.0,616.0 60.0,616.0 60.0,604.0 54.0,610.0 54.0,605.0" fill="#06f806"/>
<polygon points="78.0,593.5 86.0,601.5 86.0,606.5 80.0,600.5 80.0,612.5 76.0,612.5 76.0,600.5 70.0,606.5 70.0,601.5" fill="#06f806"/>
<polygon points="94.0,584.5 102.0,592.5 102.0,597.5 96.0,591.5 96.0,603.5 92.0,603.5 92.0,591.5 86.0,597.5 86.0,592.5" fill="#06f806"/>
<polygon points="110.0,574.0 118.0,582.0 118.0,587.0 112.0,581.0 112.0,593.0 108.0,593.0 108.0,581.0 102.0,587.0 102.0,582.0" fill="#06f806"/>
<polygon points="126.0,561.0 134.0,569.0 134.0,574.0 128.0,568.0 128.0,580.0 124.0,580.0 124.0,568.0 118.0,574.0 118.0,569.0" fill="#06f806"/>
<polygon points="142.0,548.0 150.0,556.0 150.0,561.0 144.0,555.0 144.0,567.0 140.0,567.0 140.0,555.0 134.0,561.0 134.0,556.0" fill="#06f806"/>
<polygon points="158.0,539.5 166.0,547.5 166.0,552.5 160.0,546.5 160.0,558.5 156.0,558.5 156.0,546.5 150.0,552.5 150.0,547.5" fill="#06f806"/>
<polygon points="174.0,533.5 182.0,541.5 182.0,546.5 176.0,540.5 176.0,552.5 172.0,552.5 172.0,540.5 166.0,546.5 166.0,541.5" fill="#06f806"/>
<polygon points="190.0,524.5 198.0,532.5 198.0,537.5 192.0,531.5 192.0,543.5 188.0,543.5 188.0,531.5 182.0,537.5 182.0,532.5" fill="#06f806"/>
<polygon points="206.0,512.5 214.0,520.5 214.0,525.5 208.0,519.5 208.0,531.5 204.0,531.5 204.0,519.5 198.0,525.5 198.0,520.5" fill="#06f806"/>
<polygon points="222.0,499.5 230.0,507.5 230.0,512.5 224.0,506.5 224.0,518.5 220.0,518.5 220.0,506.5 214.0,512.5 214.0,507.5" fill="#06f806"/>
<polygon points="238.0,487.0 246.0,495.0 246.0,500.0 240.0,494.0 240.0,506.0 236.0,506.0 236.0,494.0 230.0,500.0 230.0,495.0" fill="#06f806"/>
<polygon points="254.0,476.5 262.0,484.5 262.0,489.5 256.0,483.5 256.0,495.5 252.0,495.5 252.0,483.5 246.0,489.5 246.0,484.5" fill="#06f806"/>
<polygon points="270.0,467.0 278.0,475.0 278.0,480.0 272.0,474.0 272.0,486.0 268.0,486.0 268.0,474.0 262.0,480.0 262.0,475.0" fill="#06f806"/>
<polygon points="286.0,452.0 294.0,460.0 294.0,465.0 288.0,459.0 288.0,471.0 284.0,471.0 284.0,459.0 278.0,465.0 278.0,460.0" fill="#06f806"/>
<polygon points="302.0,439.0 310.0,447.0 310.0,452.0 304.0,446.0 304.0,458.0 300.0,458.0 300.0,446.0 294.0,452.0 294.0,447.0" fill="#06f806"/>
<polygon points="318.0,431.5 326.0,439.5 326.0,444.5 320.0,438.5 320.0,450.5 316.0,450.5 316.0,438.5 310.0,444.5 310.0,439.5" fill="#06f806"/>
<polygon points="334.0,423.5 342.0,431.5 342.0,436.5 336.0,430.5 336.0,442.5 332.0,442.5 332.0,430.5 326.0,436.5 326.0,431.5" fill="#06f806"/>
<polygon points="350.0,416.5 358.0,424.5 358.0,429.5 352.0,423.5 352.0,435.5 348.0,435.5 348.0,423.5 342.0,429.5 342.0,424.5" fill="#06f806"/>
<polygon points="366.0,406.0 374.0,414.0 374.0,419.0 368.0,413.0 368.0,425.0 364.0,425.0 364.0,413.0 358.0,419.0 358.0,414.0" fill="#06f806"/>
<polygon points="382.0,395.0 390.0,403.0 390.0,408.0 384.0,402.0 384.0,414.0 380.0,414.0 380.0,402.0 374.0,408.0 374.0,403.0" fill="#06f806"/>
<polygon points="398.0,381.0 406.0,389.0 406.0,394.0 400.0,388.0 400.0,400.0 396.0,400.0 396.0,388.0 390.0,394.0 390.0,389.0" fill="#06f806"/>
<polygon points="414.0,370.0 422.0,378.0 422.0,383.0 416.0,377.0 416.0,389.0 412.0,389.0 412.0,377.0 406.0,383.0 406.0,378.0" fill="#06f806"/>
<polygon points="430.0,364.0 438.0,372.0 438.0,377.0 432.0,371.0 432.0,383.0 428.0,383.0 428.0,371.0 422.0,377.0 422.0,372.0" fill="#06f806"/>
<polygon points="446.0,359.0 454.0,367.0 454.0,372.0 448.0,366.0 448.0,378.0 444.0,378.0 444.0,366.0 438.0,372.0 438.0,367.0" fill="#06f806"/>
<polygon points="462.0,354.0 470.0,362.0 470.0,367.0 464.0,361.0 464.0,373.0 460.0,373.0 460.0,361.0 454.0,367.0 454.0,362.0" fill="#06f806"/>
<polygon points="478.0,347.0 486.0,355.0 486.0,360.0 480.0,354.0 480.0,366.0 476.0,366.0 476.0,354.0 470.0,360.0 470.0,355.0" fill="#06f806"/>
<polygon points="494.0,335.5 502.0,343.5 502.0,348.5 496.0,342.5 496.0,354.5 492.0,354.5 492.0,342.5 486.0,348.5 486.0,343.5" fill="#06f806"/>
<polygon points="510.0,320.5 518.0,328.5 518.0,333.5 512.0,327.5 512.0,339.5 508.0,339.5 508.0,327.5 502.0,333.5 502.0,328.5" fill="#06f806"/>
<polygon points="526.0,314.0 534.0,322.0 534.0,327.0 528.0,321.0 528.0,333.0 524.0,333.0 524.0,321.0 518.0,327.0 518.0,322.0" fill="#06f806"/>
<polygon points="542.0,309.0 550.0,317.0 550.0,322.0 544.0,316.0 544.0,328.0 540.0,328.0 540.0,316.0 534.0,322.0 534.0,317.0" fill="#06f806"/>
<polygon points="558.0,301.5 566.0,309.5 566.0,314.5 560.0,308.5 560.0,320.5 556.0,320.5 556.0,308.5 550.0,314.5 550.0,309.5" fill="#06f806"/>
<polygon points="574.0,293.5 582.0,301.5 582.0,306.5 576.0,300.5 576.0,312.5 572.0,312.5 572.0,300.5 566.0,306.5 566.0,301.5" fill="#06f806"/>
<polygon points="590.0,285.5 598.0,293.5 598.0,298.5 592.0,292.5 592.0,304.5 588.0,304.5 588.0,292.5 582.0,298.5 582.0,293.5" fill="#06f806"/>
<polygon points="606.0,265.0 614.0,273.0 614.0,278.0 608.0,272.0 608.0,284.0 604.0,284.0 604.0,272.0 598.0,278.0 598.0,273.0" fill="#06f806"/>
<polygon points="622.0,246.0 630.0,254.0 630.0,259.0 624.0,253.0 624.0,265.0 620.0,265.0 620.0,253.0 614.0,259.0 614.0,254.0" fill="#06f806"/>
<polygon points="638.0,226.5 646.0,234.5 646.0,239.5 640.0,233.5 640.0,245.5 636.0,245.5 636.0,233.5 630.0,239.5 630.0,234.5" fill="#06f806"/>
<polygon points="654.0,209.5 662.0,217.5 662.0,222.5 656.0,216.5 656.0,228.5 652.0,228.5 652.0,216.5 646.0,222.5 646.0,217.5" fill="#06f806"/>
<polygon points="670.0,192.5 678.0,200.5 678.0,205.5 672.0,199.5 672.0,211.5 668.0,211.5 668.0,199.5 662.0,205.5 662.0,200.5" fill="#06f806"/>
<polygon points="686.0,178.0 694.0,186.0 694.0,191.0 688.0,185.0 688.0,197.0 684.0,197.0 684.0,185.0 678.0,191.0 678.0,186.0" fill="#06f806"/>
<polygon points="702.0,167.5 710.0,175.5 710.0,180.5 704.0,174.5 704.0,186.5 700.0,186.5 700.0,174.5 694.0,180.5 694.0,175.5" fill="#06f806"/>
<polygon points="718.0,156.5 726.0,164.5 726.0,169.5 720.0,163.5 720.0,175.5 716.0,175.5 716.0,163.5 710.0,169.5 710.0,164.5" fill="#06f806"/>
<polygon points="734.0,149.5 742.0,157.5 742.0,162.5 736.0,156.5 736.0,168.5 732.0,168.5 732.0,156.5 726.0,162.5 726.0,157.5" fill="#06f806"/>
<polygon points="750.0,145.0 758.0,153.0 758.0,158.0 752.0,152.0 752.0,164.0 748.0,164.0 748.0,152.0 742.0,158.0 742.0,153.0" fill="#06f806"/>
<polygon points="766.0,137.0 774.0,145.0 774.0,150.0 768.0,144.0 768.0,156.0 764.0,156.0 764.0,144.0 758.0,150.0 758.0,145.0" fill="#06f806"/>
<polygon points="782.0,134.5 790.0,142.5 790.0,147.5 784.0,141.5 784.0,153.5 780.0,153.5 780.0,141.5 774.0,147.5 774.0,142.5" fill="#06f806"/>
<polygon points="846.0,155.5 854.0,147.5 854.0,142.5 848.0,148.5 848.0,136.5 844.0,136.5 844.0,148.5 838.0,142.5 838.0,147.5" fill="#f20404"/>
<polygon points="862.0,166.0 870.0,158.0 870.0,153.0 864.0,159.0 864.0,147.0 860.0,147.0 860.0,159.0 854.0,153.0 854.0,158.0" fill="#f20404"/>
<polygon points="878.0,182.0 886.0,174.0 886.0,169.0 880.0,175.0 880.0,163.0 876.0,163.0 876.0,175.0 870.0,169.0 870.0,174.0" fill="#f20404"/>
<polygon points="894.0,196.0 902.0,188.0 902.0,183.0 896.0,189.0 896.0,177.0 892.0,177.0 892.0,189.0 886.0,183.0 886.0,188.0" fill="#f20404"/>
<polygon points="910.0,210.5 918.0,202.5 918.0,197.5 912.0,203.5 912.0,191.5 908.0,191.5 908.0,203.5 902.0,197.5 902.0,202.5" fill="#f20404"/>
<polygon points="926.0,223.0 934.0,215.0 934.0,210.0 928.0,216.0 928.0,204.0 924.0,204.0 924.0,216.0 918.0,210.0 918.0,215.0" fill="#f20404"/>
<polygon points="942.0,234.5 950.0,226.5 950.0,221.5 944.0,227.5 944.0,215.5 940.0,215.5 940.0,227.5 934.0,221.5 934.0,226.5" fill="#f20404"/>
<polygon points="958.0,250.0 966.0,242.0 966.0,237.0 960.0,243.0 960.0,231.0 956.0,231.0 956.0,243.0 950.0,237.0 950.0,242.0" fill="#f20404"/>
<polygon points="974.0,266.5 982.0,258.5 982.0,253.5 976.0,259.5 976.0,247.5 972.0,247.5 972.0,259.5 966.0,253.5 966.0,258.5" fill="#f20404"/>
<polygon points="990.0,273.5 998.0,265.5 998.0,260.5 992.0,266.5 992.0,254.5 988.0,254.5 988.0,266.5 982.0,260.5 982.0,265.5" fill="#f20404"/>
<polygon points="1006.0,280.0 1014.0,272.0 1014.0,267.0 1008.0,273.0 1008.0,261.0 1004.0,261.0 1004.0,273.0 998.0,267.0 998.0,272.0" fill="#f20404"/>
<polygon points="1022.0,284.0 1030.0,276.0 1030.0,271.0 1024.0,277.0 1024.0,265.0 1020.0,265.0 1020.0,277.0 1014.0,271.0 1014.0,276.0" fill="#f20404"/>
<polygon points="1038.0,294.0 1046.0,286.0 1046.0,281.0 1040.0,287.0 1040.0,275.0 1036.0,275.0 1036.0,287.0 1030.0,281.0 1030.0,286.0" fill="#f20404"/>
<polygon points="1054.0,299.0 1062.0,291.0 1062.0,286.0 1056.0,292.0 1056.0,280.0 1052.0,280.0 1052.0,292.0 1046.0,286.0 1046.0,291.0" fill="#f20404"/>
<polygon points="1070.0,306.0 1078.0,298.0 1078.0,293.0 1072.0,299.0 1072.0,287.0 1068.0,287.0 1068.0,299.0 1062.0,293.0 1062.0,298.0" fill="#f20404"/>
<polygon points="1086.0,317.5 1094.0,309.5 1094.0,304.5 1088.0,310.5 1088.0,298.5 1084.0,298.5 1084.0,310.5 1078.0,304.5 1078.0,309.5" fill="#f20404"/>
<polygon points="1102.0,326.5 1110.0,318.5 1110.0,313.5 1104.0,319.5 1104.0,307.5 1100.0,307.5 1100.0,319.5 1094.0,313.5 1094.0,318.5" fill="#f20404"/>
<polygon points="1118.0,332.5 1126.0,324.5 1126.0,319.5 1120.0,325.5 1120.0,313.5 1116.0,313.5 1116.0,325.5 1110.0,319.5 1110.0,324.5" fill="#f20404"/>
<polygon points="1134.0,352.0 1142.0,344.0 1142.0,339.0 1136.0,345.0 1136.0,333.0 1132.0,333.0 1132.0,345.0 1126.0,339.0 1126.0,344.0" fill="#f20404"/>
<polygon points="1150.0,371.5 1158.0,363.5 1158.0,358.5 1152.0,364.5 1152.0,352.5 1148.0,352.5 1148.0,364.5 1142.0,358.5 1142.0,363.5" fill="#f20404"/>
<polygon points="1166.0,393.0 1174.0,385.0 1174.0,380.0 1168.0,386.0 1168.0,374.0 1164.0,374.0 1164.0,386.0 1158.0,380.0 1158.0,385.0" fill="#f20404"/>
<polygon points="1182.0,410.0 1190.0,402.0 1190.0,397.0 1184.0,403.0 1184.0,391.0 1180.0,391.0 1180.0,403.0 1174.0,397.0 1174.0,402.0" fill="#f20404"/>
<polygon points="1198.0,427.0 1206.0,419.0 1206.0,414.0 1200.0,420.0 1200.0,408.0 1196.0,408.0 1196.0,420.0 1190.0,414.0 1190.0,419.0" fill="#f20404"/>
<polygon points="1214.0,444.0 1222.0,436.0 1222.0,431.0 1216.0,437.0 1216.0,425.0 1212.0,425.0 1212.0,437.0 1206.0,431.0 1206.0,436.0" fill="#f20404"/>
<polygon points="1230.0,458.0 1238.0,450.0 1238.0,445.0 1232.0,451.0 1232.0,439.0 1228.0,439.0 1228.0,451.0 1222.0,445.0 1222.0,450.0" fill="#f20404"/>
<polygon points="1246.0,473.0 1254.0,465.0 1254.0,460.0 1248.0,466.0 1248.0,454.0 1244.0,454.0 1244.0,466.0 1238.0,460.0 1238.0,465.0" fill="#f20404"/>
<polygon points="1262.0,486.5 1270.0,478.5 1270.0,473.5 1264.0,479.5 1264.0,467.5 1260.0,467.5 1260.0,479.5 1254.0,473.5 1254.0,478.5" fill="#f20404"/>
<polygon points="1278.0,498.5 1286.0,490.5 1286.0,485.5 1280.0,491.5 1280.0,479.5 1276.0,479.5 1276.0,491.5 1270.0,485.5 1270.0,490.5" fill="#f20404"/>
<polygon points="1294.0,510.5 1302.0,502.5 1302.0,497.5 1296.0,503.5 1296.0,491.5 1292.0,491.5 1292.0,503.5 1286.0,497.5 1286.0,502.5" fill="#f20404"/>
<polygon points="1310.0,520.5 1318.0,512.5 1318.0,507.5 1312.0,513.5 1312.0,501.5 1308.0,501.5 1308.0,513.5 1302.0,507.5 1302.0,512.5" fill="#f20404"/>
<polygon points="1342.0,527.5 1350.0,519.5 1350.0,514.5 1344.0,520.5 1344.0,508.5 1340.0,508.5 1340.0,520.5 1334.0,514.5 1334.0,519.5" fill="#f20404"/>
<polygon points="1358.0,530.5 1366.0,522.5 1366.0,517.5 1360.0,523.5 1360.0,511.5 1356.0,511.5 1356.0,523.5 1350.0,517.5 1350.0,522.5" fill="#f20404"/>
<polygon points="1374.0,535.0 1382.0,527.0 1382.0,522.0 1376.0,528.0 1376.0,516.0 1372.0,516.0 1372.0,528.0 1366.0,522.0 1366.0,527.0" fill="#f20404"/>
<polygon points="1390.0,538.5 1398.0,530.5 1398.0,525.5 1392.0,531.5 1392.0,519.5 1388.0,519.5 1388.0,531.5 1382.0,525.5 1382.0,530.5" fill="#f20404"/>
<polygon points="1406.0,545.0 1414.0,537.0 1414.0,532.0 1408.0,538.0 1408.0,526.0 1404.0,526.0 1404.0,538.0 1398.0,532.0 1398.0,537.0" fill="#f20404"/>
<polygon points="1422.0,556.0 1430.0,548.0 1430.0,543.0 1424.0,549.0 1424.0,537.0 1420.0,537.0 1420.0,549.0 1414.0,543.0 1414.0,548.0" fill="#f20404"/>
<polygon points="0.0,-9.5 8.0,-1.5 8.0,3.5 2.0,-2.5 2.0,9.5 -2.0,9.5 -2.0,-2.5 -8.0,3.5 -8.0,-1.5" fill="#06f806" transform="translate(798.5,140.5) rotate(45)"/>
<polygon points="0.0,-9.5 8.0,-1.5 8.0,3.5 2.0,-2.5 2.0,9.5 -2.0,9.5 -2.0,-2.5 -8.0,3.5 -8.0,-1.5" fill="#06f806" transform="translate(814.5,138.5) rotate(45)"/>
<polygon points="0.0,-9.5 8.0,-1.5 8.0,3.5 2.0,-2.5 2.0,9.5 -2.0,9.5 -2.0,-2.5 -8.0,3.5 -8.0,-1.5" fill="#ffffff" transform="translate(830.5,138.0) rotate(90)"/>
<polygon points="0.0,-9.5 8.0,-1.5 8.0,3.5 2.0,-2.5 2.0,9.5 -2.0,9.5 -2.0,-2.5 -8.0,3.5 -8.0,-1.5" fill="#f20404" transform="translate(1327.5,515.0) rotate(135)"/>
</g>
<g fill="#fff" shape-rendering="crispEdges">
<rect x="0" y="0" width="1824" height="1"/>
<rect x="1823" y="0" width="1" height="717"/>
<rect x="1823" y="718" width="1" height="61"/>
<rect x="1824" y="719" width="2" height="1"/>
<rect x="1824" y="777" width="2" height="1"/>
<rect x="0" y="716" width="1823" height="1"/>
<rect x="0" y="718" width="1823" height="1"/>
<rect x="0" y="778" width="1824" height="1"/>
<rect x="1824" y="30" width="3" height="1"/>
<rect x="1824" y="95" width="3" height="1"/>
<rect x="1824" y="160" width="3" height="1"/>
<rect x="1824" y="225" width="3" height="1"/>
<rect x="1824" y="290" width="3" height="1"/>
<rect x="1824" y="355" width="3" height="1"/>
<rect x="1824" y="420" width="3" height="1"/>
<rect x="1824" y="485" width="3" height="1"/>
<rect x="1824" y="551" width="3" height="1"/>
<rect x="1824" y="616" width="3" height="1"/>
<rect x="1824" y="681" width="3" height="1"/>
<rect x="110" y="779" width="1" height="4"/>
<rect x="238" y="779" width="1" height="4"/>
<rect x="366" y="779" width="1" height="4"/>
<rect x="494" y="779" width="1" height="4"/>
<rect x="622" y="779" width="1" height="4"/>
<rect x="750" y="779" width="1" height="4"/>
<rect x="878" y="779" width="1" height="4"/>
<rect x="1006" y="779" width="1" height="4"/>
<rect x="1134" y="779" width="1" height="4"/>
<rect x="1262" y="779" width="1" height="4"/>
<rect x="1390" y="779" width="1" height="4"/>
</g>
<polygon points="1446,1 1462,1 1454,9" fill="#778899"/>
<text x="3" y="17" font-size="14" fill="#fff" textLength="75" lengthAdjust="spacingAndGlyphs">AUDUSD,H4</text>
<text x="86.1" y="17" font-size="14" fill="#fff" textLength="219.6" lengthAdjust="spacing">0.66686 0.66742 0.66179 0.66431</text>
<text x="1830" y="36" font-size="14" fill="#fff">0.69020</text>
<text x="1830" y="101" font-size="14" fill="#fff">0.68740</text>
<text x="1830" y="166" font-size="14" fill="#fff">0.68465</text>
<text x="1830" y="231" font-size="14" fill="#fff">0.68190</text>
<text x="1830" y="296" font-size="14" fill="#fff">0.67910</text>
<text x="1830" y="361" font-size="14" fill="#fff">0.67635</text>
<text x="1830" y="426" font-size="14" fill="#fff">0.67360</text>
<text x="1830" y="491" font-size="14" fill="#fff">0.67080</text>
<text x="1830" y="557" font-size="14" fill="#fff">0.66800</text>
<text x="1830" y="622" font-size="14" fill="#fff">0.66525</text>
<text x="1830" y="687" font-size="14" fill="#fff">0.66245</text>
<rect x="1825" y="630" width="62" height="17" fill="#fff"/>
<text x="1830" y="644" font-size="14" fill="#000">0.66431</text>
<text x="1828" y="734" font-size="14" fill="#fff">1</text>
<text x="1828" y="774" font-size="14" fill="#fff">0</text>
<text x="109" y="796" font-size="14" fill="#fff">8 Jun 12:00</text>
<text x="237" y="796" font-size="14" fill="#fff">9 Jun 20:00</text>
<text x="365" y="796" font-size="14" fill="#fff">13 Jun 04:00</text>
<text x="493" y="796" font-size="14" fill="#fff">14 Jun 12:00</text>
<text x="621" y="796" font-size="14" fill="#fff">15 Jun 20:00</text>
<text x="749" y="796" font-size="14" fill="#fff">19 Jun 04:00</text>
<text x="877" y="796" font-size="14" fill="#fff">20 Jun 12:00</text>
<text x="1005" y="796" font-size="14" fill="#fff">21 Jun 20:00</text>
<text x="1133" y="796" font-size="14" fill="#fff">23 Jun 04:00</text>
<text x="1261" y="796" font-size="14" fill="#fff">26 Jun 12:00</text>
<text x="1389" y="796" font-size="14" fill="#fff">27 Jun 20:00</text>
<text x="-19" y="796" font-size="14" fill="#fff">7 Jun 2023</text>
</svg></body></html>
